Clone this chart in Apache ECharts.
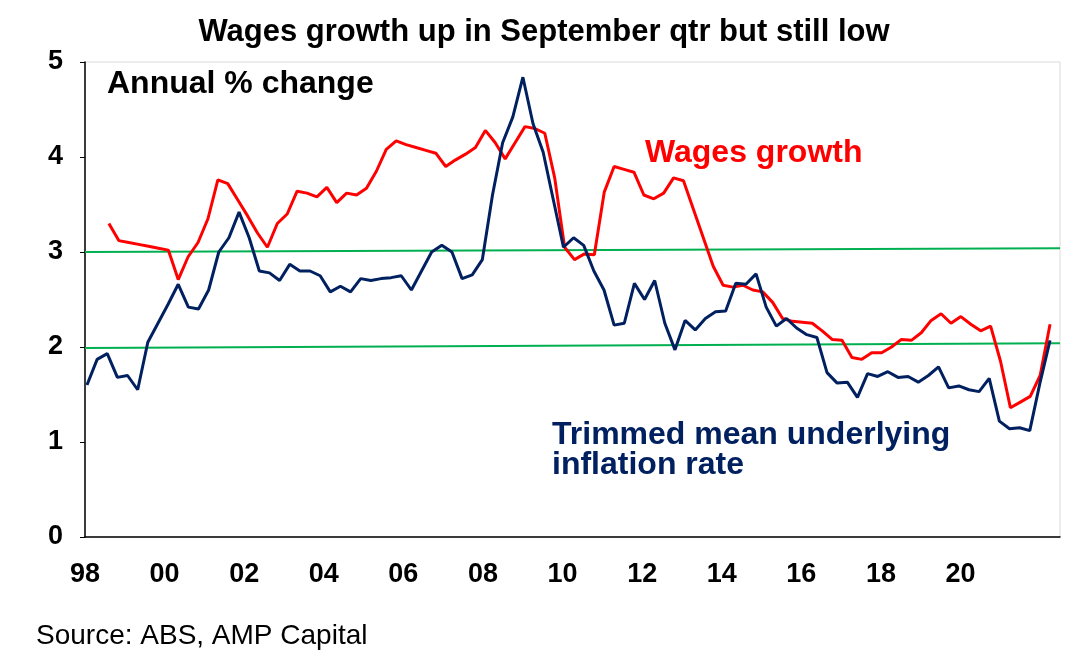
<!DOCTYPE html>
<html><head><meta charset="utf-8">
<script src="https://cdn.jsdelivr.net/npm/echarts@6/dist/echarts.min.js"></script>
<style>body{margin:0}#c{width:1088px;height:667px}</style></head>
<body><div id="c"></div>
<script>
const trimmedMean=[1.6,1.87,1.93,1.68,1.7,1.55,2.05,2.25,2.45,2.66,2.42,2.4,2.6,3.0,3.15,3.42,3.15,2.8,2.78,2.7,2.87,2.8,2.8,2.75,2.58,2.64,2.58,2.72,2.7,2.72,2.73,2.75,2.6,2.8,3.0,3.07,3.0,2.72,2.76,2.92,3.6,4.15,4.42,4.84,4.35,4.05,3.55,3.05,3.15,3.07,2.8,2.6,2.23,2.25,2.67,2.5,2.7,2.25,1.97,2.28,2.18,2.3,2.37,2.38,2.67,2.66,2.77,2.42,2.22,2.3,2.2,2.13,2.1,1.73,1.62,1.63,1.47,1.72,1.69,1.74,1.68,1.69,1.63,1.7,1.79,1.57,1.59,1.55,1.53,1.67,1.22,1.14,1.15,1.12,1.62,2.07];
const wagesGrowth=[3.3,3.12,3.1,3.08,3.06,3.04,3.02,2.71,2.95,3.1,3.35,3.76,3.72,3.55,3.38,3.2,3.05,3.3,3.4,3.64,3.62,3.58,3.68,3.52,3.62,3.6,3.67,3.85,4.08,4.17,4.13,4.1,4.07,4.04,3.9,3.97,4.03,4.1,4.28,4.15,3.98,4.15,4.32,4.3,4.25,3.78,3.05,2.92,2.98,2.97,3.63,3.9,3.87,3.84,3.6,3.56,3.62,3.78,3.75,3.45,3.15,2.85,2.65,2.63,2.65,2.6,2.58,2.47,2.3,2.27,2.26,2.25,2.17,2.08,2.07,1.89,1.87,1.94,1.94,2.0,2.08,2.07,2.15,2.28,2.35,2.25,2.32,2.24,2.17,2.22,1.85,1.36,1.42,1.48,1.7,2.24];
const blueStart=1998.05, blueEnd=2022.25, redStart=1998.6, redEnd=2022.25;
const refLow=[[1998,1.99],[2022.5,2.04]], refHigh=[[1998,3.0],[2022.5,3.04]];
const spread=(arr,s,e)=>arr.map((v,i)=>[s+i*(e-s)/(arr.length-1),v]);
const F='Liberation Sans, Arial, sans-serif';
const chart=echarts.init(document.getElementById('c'));
chart.setOption({
  animation:false,
  title:{text:'Wages growth up in September qtr but still low',left:'center',top:12,textStyle:{fontFamily:F,fontSize:31,fontWeight:'bold',color:'#000'}},
  grid:{left:85,right:28,top:62,bottom:130,show:true,borderColor:'#d9d9d9',borderWidth:1},
  xAxis:{type:'value',min:1998,max:2022.5,interval:2,splitLine:{show:false},
    axisLine:{show:true,onZero:false,lineStyle:{color:'#000',width:1.5}},axisTick:{show:false},
    axisLabel:{fontFamily:F,fontSize:27,fontWeight:'bold',color:'#000',margin:24,
      formatter:v=>v>2020?'':String(v%100).padStart(2,'0')}},
  yAxis:{type:'value',min:0,max:5,interval:1,splitLine:{show:false},
    axisLine:{show:true,lineStyle:{color:'#000',width:1.5}},axisTick:{show:true,lineStyle:{color:'#000'}},
    axisLabel:{fontFamily:F,fontSize:27,fontWeight:'bold',color:'#000',margin:22}},
  series:[
    {type:'line',data:refHigh,symbol:'none',lineStyle:{color:'#00b050',width:2},silent:true},
    {type:'line',data:refLow,symbol:'none',lineStyle:{color:'#00b050',width:2},silent:true},
    {type:'line',data:spread(wagesGrowth,redStart,redEnd),symbol:'none',lineStyle:{color:'#ff0000',width:3}},
    {type:'line',data:spread(trimmedMean,blueStart,blueEnd),symbol:'none',lineStyle:{color:'#002060',width:3}}
  ],
  graphic:[
    {type:'text',left:107,top:68,style:{text:'Annual % change',font:'bold 32px '+F,fill:'#000'}},
    {type:'text',left:645,top:137,style:{text:'Wages growth',font:'bold 32px '+F,fill:'#ff0000'}},
    {type:'text',left:552,top:419,style:{text:'Trimmed mean underlying\ninflation rate',font:'bold 32px '+F,fill:'#002060',lineHeight:30}},
    {type:'text',left:36,top:622,style:{text:'Source: ABS, AMP Capital',font:'28px '+F,fill:'#000'}}
  ]
});
</script></body></html>
